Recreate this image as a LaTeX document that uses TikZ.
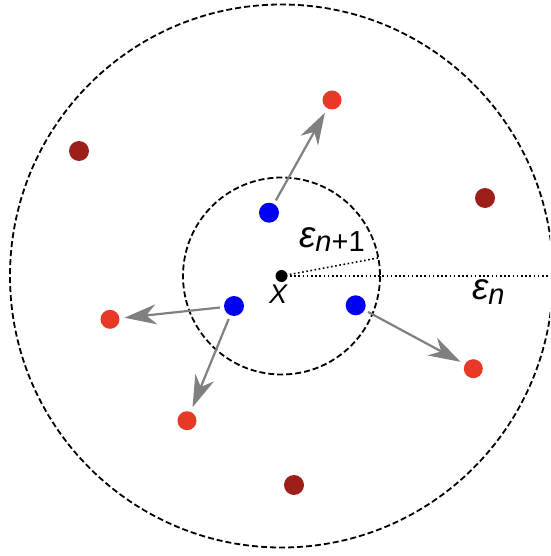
\documentclass[tikz,border=0pt]{standalone}
\usepackage{fontspec}
\setmainfont{Liberation Sans}
\usetikzlibrary{arrows.meta}
\definecolor{ptred}{RGB}{232,57,40}
\definecolor{ptdark}{RGB}{156,32,25}
\definecolor{ptblue}{RGB}{0,0,245}
\definecolor{arrgray}{RGB}{128,128,128}
\tikzset{
  ball/.style={circle, inner sep=0pt, outer sep=0pt, minimum size=#1},
  bluedot/.style={ball=20pt, fill=ptblue},
  reddot/.style={ball=19pt, fill=ptred},
  darkdot/.style={ball=20pt, fill=ptdark},
  ring/.style={draw=black, line width=1.8pt, dash pattern=on 6pt off 3pt},
  radius line/.style={draw=black, line width=1.6pt, dash pattern=on 1.6pt off 2.6pt},
  move/.style={draw=arrgray, line width=2.2pt, -{Stealth[length=32pt, width=20pt, inset=10pt]}, shorten >=5pt, shorten <=4pt},
  lbl/.style={inner sep=0pt, anchor=base west}
}
\begin{document}
\begin{tikzpicture}[x=1pt, y=-1pt]
\useasboundingbox (0,0) rectangle (550,556);
\clip (0,0) rectangle (550,556);
% rings
\node[ball=12pt, fill=black] (X) at (281.5,276) {};
\draw[ring] (X.center) circle[radius=271.5];
\draw[ring] (X.center) circle[radius=98.5];
% radius markers
\coordinate (r1) at (378.3,257.9);
\coordinate (r2) at (550,276);
\draw[radius line] (X.center) -- (r1);
\draw[radius line] (X.center) -- (r2);
% points
\node[bluedot] (b1) at (269,212.7) {};
\node[bluedot] (b2) at (234,306) {};
\node[bluedot] (b3) at (355.7,305.3) {};
\node[reddot] (t1) at (332,100) {};
\node[reddot] (t2) at (110,319.3) {};
\node[reddot] (t3) at (187,420.7) {};
\node[reddot] (t4) at (473.3,368.7) {};
\node[darkdot] (d1) at (79,151) {};
\node[darkdot] (d2) at (485,198) {};
\node[darkdot] (d3) at (294,485) {};
% moves
\draw[move] (b1) -- (t1);
\draw[move] (b2) -- (t2);
\draw[move] (b2) -- (t3);
\draw[move] (b3) -- (t4);
% labels
\node[lbl] (xl) at (269,303.5) {\fontsize{27}{27}\selectfont\itshape X};
\node[lbl] (e1) at (299,247) {\fontsize{37}{37}\selectfont\itshape ε\raisebox{-4pt}{\fontsize{29}{29}\selectfont\itshape n\upshape+1}};
\node[lbl] (e2) at (472,299) {\fontsize{37}{37}\selectfont\itshape ε\raisebox{-5pt}{\fontsize{29}{29}\selectfont\itshape n}};
\end{tikzpicture}
\end{document}
